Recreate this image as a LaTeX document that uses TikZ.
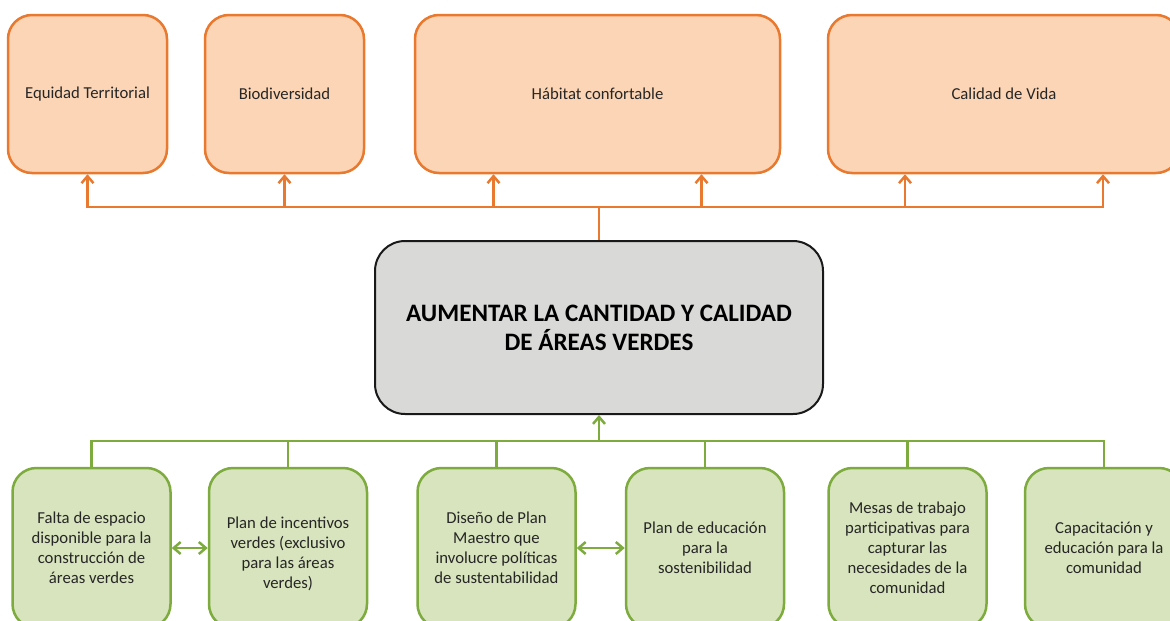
\documentclass[tikz,border=0pt]{standalone}
\usepackage{fontspec}
\setmainfont{Carlito}
\usepackage{tikz}
\usetikzlibrary{arrows.meta,positioning}
\definecolor{orangeline}{HTML}{E8792F}
\definecolor{peach}{HTML}{FBD5B5}
\definecolor{greenline}{HTML}{7DAB3E}
\definecolor{lightgreen}{HTML}{D7E4BD}
\definecolor{lightgray}{HTML}{D9D9D7}

\begin{document}
\begin{tikzpicture}[
    x=1pt, y=-1pt,
    topbox/.style={
        rectangle, draw=orangeline, fill=peach, rounded corners=24pt,
        line width=2.5pt, minimum height=158pt, inner sep=0pt,
        align=center, text=black!85,
        font=\fontsize{16.7}{20}\selectfont
    },
    botbox/.style={
        rectangle, draw=greenline, fill=lightgreen, rounded corners=24pt,
        line width=2.5pt, minimum width=158pt, minimum height=160pt,
        inner sep=0pt, align=center, text=black!85,
        font=\fontsize{16.7}{20}\selectfont
    },
    goalbox/.style={
        rectangle, draw=black!90, fill=lightgray, rounded corners=30pt,
        line width=2pt, minimum width=448pt, minimum height=173pt,
        inner sep=0pt, align=center,
        font=\fontsize{25.1}{29}\selectfont\bfseries
    },
    oline/.style={draw=orangeline, line width=2.5pt},
    oarrow/.style={oline, -{Straight Barb[length=7pt,width=12pt]}},
    gline/.style={draw=greenline, line width=2.5pt},
    garrow/.style={gline, -{Straight Barb[length=7pt,width=12pt]}},
    gdarrow/.style={gline,
        {Straight Barb[length=7pt,width=12pt]}-{Straight Barb[length=7pt,width=12pt]}}
]
\clip (0,0) rectangle (1170,621);
\useasboundingbox (0,0) rectangle (1170,621);

% effects
\node[topbox, minimum width=159pt] (equidad) at (87.5,94) {Equidad Territorial};
\node[topbox, minimum width=159pt] (biodiv)  at (284.5,94) {Biodiversidad};
\node[topbox, minimum width=365pt] (habitat) at (597.5,94) {Hábitat confortable};
\node[topbox, minimum width=352pt] (calidad) at (1004,94) {Calidad de Vida};

% central goal
\node[goalbox] (meta) at (599,327.5)
    {AUMENTAR LA CANTIDAD Y CALIDAD\\DE ÁREAS VERDES};

% means
\node[botbox] (falta)  at (91.5,548)
    {Falta de espacio\\disponible para la\\construcción de\\áreas verdes};
\node[botbox] (incent) at (288,548)
    {\rule{0pt}{24pt}Plan de incentivos\\verdes (exclusivo\\para las áreas\\verdes)};
\node[botbox] (diseno) at (496.5,548)
    {Diseño de Plan\\Maestro que\\involucre políticas\\de sustentabilidad};
\node[botbox] (educ)   at (705,548)
    {Plan de educación\\para la\\sostenibilidad};
\node[botbox] (mesas)  at (907.5,548)
    {Mesas de trabajo\\participativas para\\capturar las\\necesidades de la\\comunidad};
\node[botbox] (capac)  at (1104,548)
    {Capacitación y\\educación para la\\comunidad};

\coordinate (obus) at (599,207);
\coordinate (gbus) at (599,441);

% orange tree
\draw[oline]  (meta.north) -- (obus);
\draw[oarrow] (obus) -| (equidad.south);
\draw[oarrow] (obus) -| (biodiv.south);
\draw[oarrow] (obus) -| ([xshift=-104pt]habitat.south);
\draw[oarrow] (obus) -| ([xshift=104pt]habitat.south);
\draw[oarrow] (obus) -| ([xshift=-99pt]calidad.south);
\draw[oarrow] (obus) -| ([xshift=99pt]calidad.south);

% green tree
\draw[garrow] (gbus) -- (meta.south);
\foreach \n in {falta,incent,diseno,educ,mesas,capac}
    \draw[gline] (\n.north) |- (gbus);
\draw[gdarrow] (falta.east)  -- (incent.west);
\draw[gdarrow] (diseno.east) -- (educ.west);
\end{tikzpicture}
\end{document}
